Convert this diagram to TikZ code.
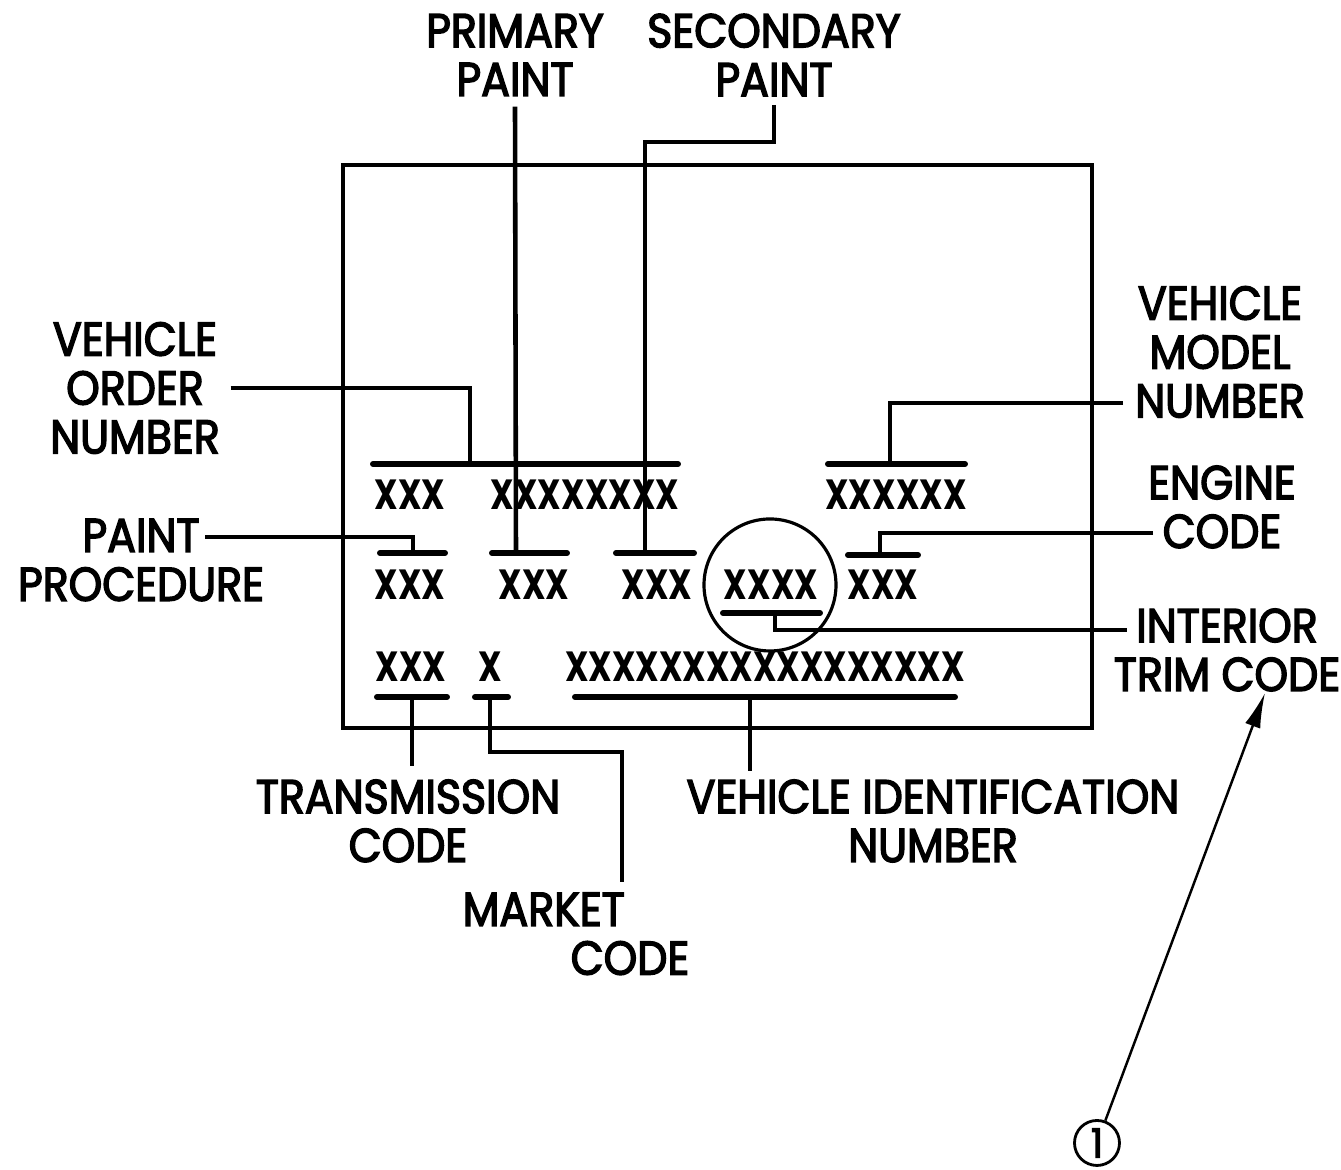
\documentclass[tikz,border=0pt]{standalone}
\usepackage{fontspec}
\setmainfont{Poppins}
\newfontfamily\tagfont{Poppins}[FakeStretch=0.9, FakeBold=3]
\newfontfamily\fieldfont{Poppins}[FakeStretch=0.78]
\usetikzlibrary{arrows.meta,calc}
\begin{document}
\begin{tikzpicture}{}
    \tikzstyle{every node}=[align=center, inner sep=0pt];
    \tikzstyle{tagtext} = [font=\fontsize{13.5}{13.9}\selectfont\tagfont]
    \tikzstyle{codetext} = [font=\fontsize{12}{12}\selectfont\fieldfont\bfseries]
    \tikzstyle{lead} = [line width=1.3pt]
    \tikzstyle{uline} = [line width=1.7pt, line cap=round]

    \useasboundingbox (0,0) rectangle (13.41,11.70);

    % the plate
    \draw[line width=0.9pt] (3.43,4.42) rectangle (10.92,10.05);

    % codes on the plate
    \node[codetext] (ord) at (4.10,6.75) {XXX};
    \node[codetext] (paint) at (5.85,6.75) {XXXXXXXX};
    \node[codetext] (model) at (8.96,6.75) {XXXXXX};
    \node[codetext] (proc) at (4.10,5.85) {XXX};
    \node[codetext] (prim) at (5.34,5.85) {XXX};
    \node[codetext] (sec) at (6.57,5.85) {XXX};
    \node[codetext] (trim) at (7.71,5.85) {XXXX};
    \node[codetext] (eng) at (8.83,5.85) {XXX};
    \node[codetext] (trans) at (4.11,5.03) {XXX};
    \node[codetext] (mkt) at (4.90,5.03) {X};
    \node[codetext] (vin) at (7.65,5.03) {XXXXXXXXXXXXXXXXX};
    \node[draw, circle, line width=0.9pt, minimum size=1.32cm] (ring) at (7.70,5.85) {};

    % underlines
    \draw[uline] (3.73,7.06) -- (6.78,7.06);
    \draw[uline] (8.28,7.06) -- (9.65,7.06);
    \draw[uline] (3.80,6.17) -- (4.45,6.17);
    \draw[uline] (4.92,6.17) -- (5.67,6.17);
    \draw[uline] (6.16,6.17) -- (6.94,6.17);
    \draw[uline] (8.48,6.15) -- (9.18,6.15);
    \draw[uline] (7.23,5.57) -- (8.20,5.57);
    \draw[uline] (3.77,4.73) -- (4.47,4.73);
    \draw[uline] (4.75,4.73) -- (5.08,4.73);
    \draw[uline] (5.75,4.73) -- (9.55,4.73);

    \coordinate (uOrd) at (4.70,7.06);
    \coordinate (uMod) at (8.90,7.06);
    \coordinate (uProc) at (4.13,6.17);
    \coordinate (uPrim) at (5.16,6.17);
    \coordinate (uSec) at (6.45,6.17);
    \coordinate (uEng) at (8.80,6.15);
    \coordinate (uTrim) at (7.75,5.57);
    \coordinate (uTrans) at (4.12,4.73);
    \coordinate (uMkt) at (4.90,4.73);
    \coordinate (uVin) at (7.50,4.73);

    % callouts
    \node[tagtext] (lprim) at (5.15,11.15) {PRIMARY\\PAINT};
    \node[tagtext] (lsec) at (7.74,11.15) {SECONDARY\\PAINT};
    \node[tagtext] (lord) at (1.35,7.82) {VEHICLE\\ORDER\\NUMBER};
    \node[tagtext] (lproc) at (1.41,6.10) {PAINT\\PROCEDURE};
    \node[tagtext] (lmod) at (12.20,8.18) {VEHICLE\\MODEL\\NUMBER};
    \node[tagtext] (leng) at (12.22,6.63) {ENGINE\\CODE};
    \node[tagtext] (ltrim) at (12.27,5.20) {INTERIOR\\TRIM CODE};
    \node[tagtext] (ltrans) at (4.08,3.49) {TRANSMISSION\\CODE};
    \node[tagtext] (lvin) at (9.33,3.49) {VEHICLE IDENTIFICATION\\NUMBER};
    \node[tagtext, align=left, anchor=north west] (lmkt) at (4.62,2.78) {MARKET\\\hspace*{1.08cm}CODE};

    \coordinate (cProc) at (2.05,6.33);
    \coordinate (cMod) at (11.23,7.67);
    \coordinate (cEng) at (11.53,6.37);
    \coordinate (cTrim) at (11.27,5.40);
    \coordinate (cMkt) at (6.22,2.88);

    % leaders
    \draw[lead] ([yshift=-1mm]lprim.south) -- (uPrim);
    \draw[lead] ([yshift=-0.8mm]lsec.south) -- ++(0,-0.37) -| (uSec);
    \draw[lead] ([xshift=1mm]lord.east) -| (uOrd);
    \draw[lead] (cProc) -| (uProc);
    \draw[lead] (cMod) -| (uMod);
    \draw[lead] (cEng) -| (uEng);
    \draw[lead] (uTrim) |- (cTrim);
    \draw[lead] (uTrans) -- ($(uTrans |- ltrans.north)+(0,0.13)$);
    \draw[lead] (uMkt) -- ++(0,-0.55) -| (cMkt);
    \draw[lead] (uVin) -- ($(uVin |- lvin.north)+(0,0.08)$);

    % reference mark
    \node[draw, circle, line width=0.8pt, minimum size=0.45cm, font=\fontsize{11.5}{11.5}\selectfont\tagfont] (one) at (10.97,0.27) {1};
    \coordinate (cTip) at (12.65,4.77);
    \draw[line width=0.7pt, -{Latex[length=3.5mm, width=1.6mm]}] (one) -- (cTip);
\end{tikzpicture}
\end{document}
